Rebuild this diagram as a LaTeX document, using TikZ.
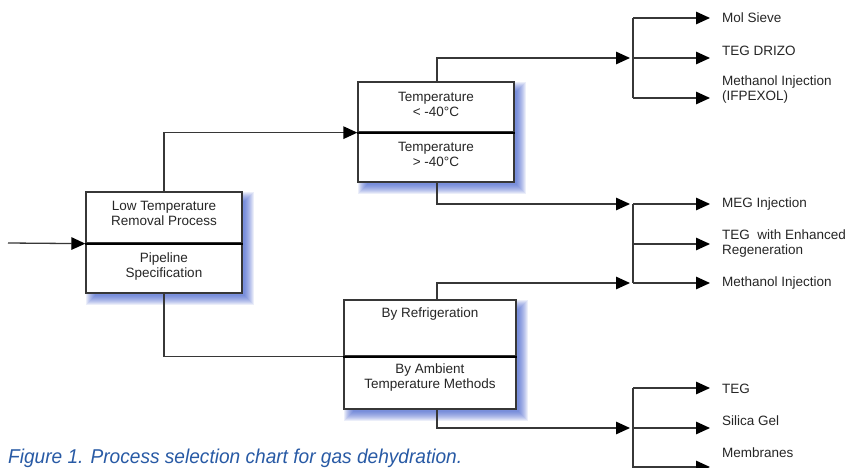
\documentclass[tikz,border=0pt]{standalone}
\usepackage{fontspec}
\setmainfont{Liberation Sans}
\usetikzlibrary{arrows.meta,calc,backgrounds}
\definecolor{shadowblue}{RGB}{60,90,205}
\definecolor{capblue}{RGB}{40,90,165}
\definecolor{linegray}{RGB}{55,55,55}
\newcommand\dshadow[2]{%
  \foreach \k in {0,...,9}{%
    \fill[shadowblue,opacity=0.1] ($(#1.north west)+(1+\k,1+\k)$) rectangle ($(#2.south east)+(11-\k,11-\k)$);}}
\tikzset{
  cell/.style={draw=linegray, line width=1.3pt, fill=white, inner sep=0pt, minimum width=#1},
  lbl/.style={font=\fontsize{13.5}{15}\selectfont, text=black!85, align=center, inner sep=0pt, anchor=north},
  outlbl/.style={font=\fontsize{13.5}{15}\selectfont, text=black!85, align=left, inner sep=0pt, anchor=west},
  conn/.style={draw=linegray, line width=1.3pt},
  arr/.style={conn, -{Triangle[length=14pt,width=12.5pt,fill=black,color=black]}},
  divider/.style={draw=black, line width=2pt},
}
\begin{document}
\begin{tikzpicture}[x=1pt,y=-1pt]
\useasboundingbox (0,0) rectangle (849,468);
\begin{pgfonlayer}{background}
\fill[white] (0,0) rectangle (849,468);
\end{pgfonlayer}
\clip (0,0) rectangle (849,468);

% boxes
\node[cell=156pt, minimum height=51pt, label={[lbl,yshift=-10pt]north:Low Temperature\\Removal Process}] (b1u) at (164,217.5) {};
\node[cell=156pt, minimum height=50pt, label={[lbl,yshift=-10pt]north:Pipeline\\Specification}] (b1l) at (164,268) {};
\node[cell=156pt, minimum height=50pt, label={[lbl,yshift=-10.5pt]north:Temperature\\< -40°C}] (b2u) at (436,107) {};
\node[cell=156pt, minimum height=50pt, label={[lbl,yshift=-11pt]north:Temperature\\> -40°C}] (b2l) at (436,157) {};
\node[cell=172pt, minimum height=56pt, label={[lbl,yshift=-8.5pt]north:By Refrigeration}] (b3u) at (430,328) {};
\node[cell=172pt, minimum height=53pt, label={[lbl,yshift=-8.5pt]north:By Ambient\\Temperature Methods}] (b3l) at (430,382.5) {};
\draw[divider] (b1u.south west) -- (b1u.south east);
\draw[divider] (b2u.south west) -- (b2u.south east);
\draw[divider] (b3u.south west) -- (b3u.south east);

\begin{pgfonlayer}{background}
\dshadow{b1u}{b1l}
\dshadow{b2u}{b2l}
\dshadow{b3u}{b3l}
\end{pgfonlayer}

% outputs
\node[outlbl] (o1) at (722,18) {Mol Sieve};
\node[outlbl] (o2) at (722,51) {TEG DRIZO};
\node[outlbl] (o3) at (722,90) {Methanol Injection\\(IFPEXOL)};
\node[outlbl] (o4) at (722,204) {MEG Injection};
\node[outlbl] (o5) at (722,243.5) {TEG\ \ with Enhanced\\Regeneration};
\node[outlbl] (o6) at (722,283) {Methanol Injection};
\node[outlbl] (o7) at (722,389) {TEG};
\node[outlbl] (o8) at (722,421) {Silica Gel};
\node[outlbl] (o9) at (722,453) {Membranes};

% coordinates
\coordinate (in) at (8,243);
\coordinate (j1) at (630,58);
\coordinate (j2) at (630,204);
\coordinate (j3) at (630,283);
\coordinate (j4) at (630,428);
\coordinate (bt1) at (633,18);  \coordinate (bt2) at (633,58);  \coordinate (bt3) at (633,98);
\coordinate (bm1) at (633,204); \coordinate (bm2) at (633,244); \coordinate (bm3) at (633,283);
\coordinate (bb1) at (633,388); \coordinate (bb2) at (633,428); \coordinate (bb3) at (633,467);
\coordinate (bbend) at (633,472);
\coordinate (t1) at (710,18);  \coordinate (t2) at (710,58);  \coordinate (t3) at (710,98);
\coordinate (t4) at (710,204); \coordinate (t5) at (710,244); \coordinate (t6) at (710,283);
\coordinate (t7) at (710,388); \coordinate (t8) at (710,428); \coordinate (t9) at (710,467);
\coordinate (b3top) at (437,300);
\coordinate (b3bot) at (437,409);
\coordinate (b2top) at (437,82);
\coordinate (b2bot) at (437,182);

% connectors
\draw[arr] (in) -- (b1u.south west);
\draw[arr] (b1u.north) |- (b2u.south west);
\draw[conn] (b1l.south) |- (b3u.south west);
\draw[arr] (b2top) |- (j1);
\draw[arr] (b2bot) |- (j2);
\draw[arr] (b3top) |- (j3);
\draw[arr] (b3bot) |- (j4);
\draw[conn] (bt1) -- (bt3);
\draw[conn] (bm1) -- (bm3);
\draw[conn] (bb1) -- (bbend);
\foreach \s/\t in {bt1/t1,bt2/t2,bt3/t3,bm1/t4,bm2/t5,bm3/t6,bb1/t7,bb2/t8,bb3/t9}
  \draw[arr] (\s) -- (\t);

% caption
\node[anchor=base west, inner sep=0pt, text=capblue, font=\fontsize{20}{22}\selectfont\itshape] (cap) at (8,463)
  {\scalebox{0.955}[1]{Figure 1. Process selection chart for gas dehydration.}};
\end{tikzpicture}
\end{document}
